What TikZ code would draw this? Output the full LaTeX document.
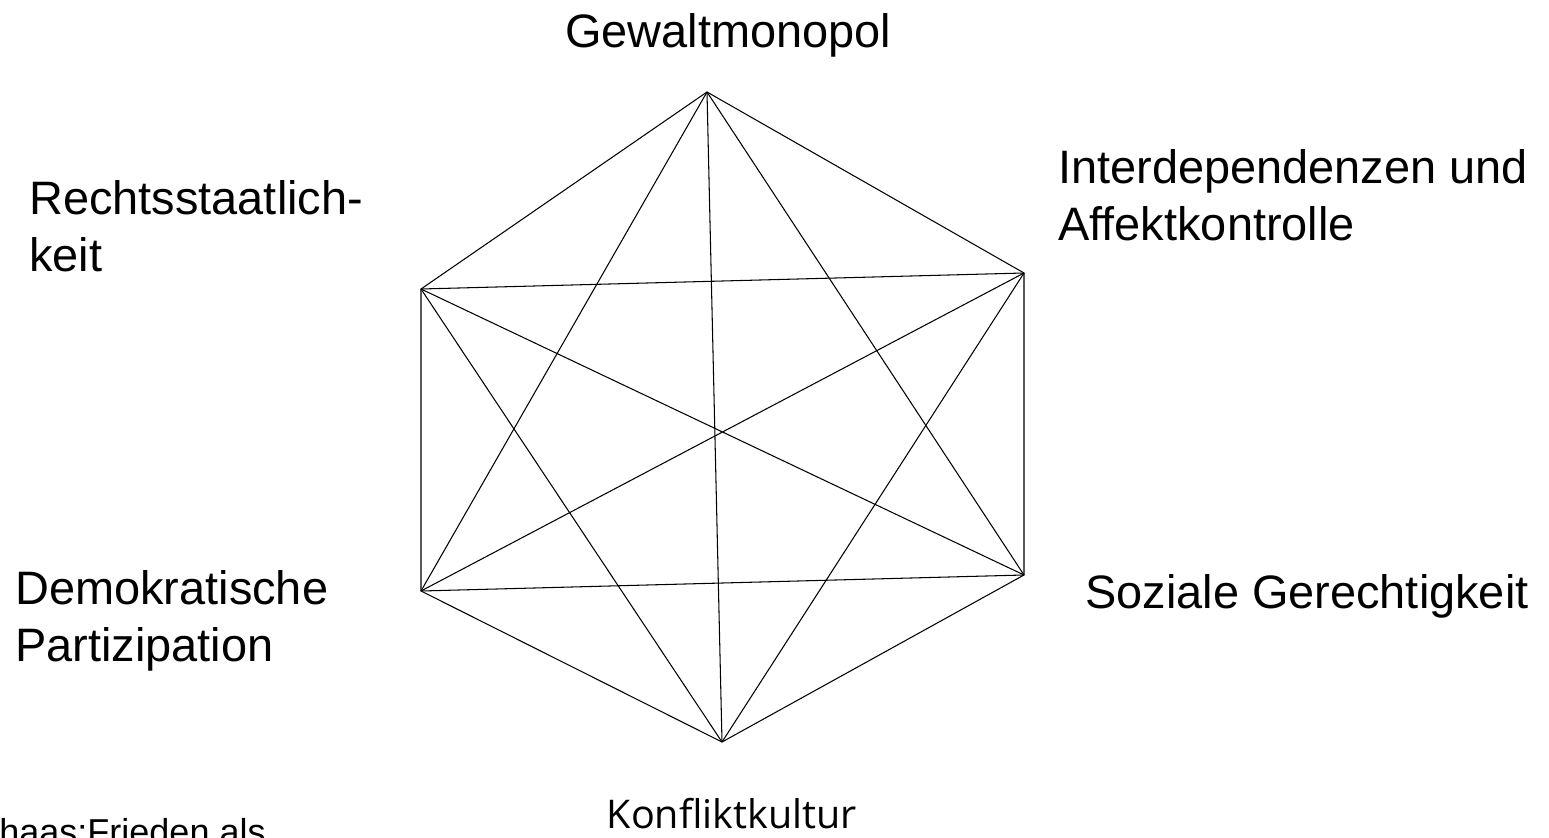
\documentclass[tikz,border=0pt]{standalone}
\usepackage{fontspec}
\setmainfont{Liberation Sans}
\newfontfamily\kulturfont{Open Sans}
\begin{document}
\begin{tikzpicture}[x=0.02cm,y=-0.02cm,
    label/.style={align=left,inner sep=0pt,anchor=base west,
      font=\fontsize{26.7}{32.4}\selectfont},
    edge/.style={line width=0.6pt}]
    \useasboundingbox (0,0) rectangle (1549,838);

    % corners of the hexagon
    \coordinate (gewalt) at (707,92);
    \coordinate (inter) at (1024,273);
    \coordinate (sozial) at (1024,575);
    \coordinate (konflikt) at (722,742);
    \coordinate (demo) at (421,591);
    \coordinate (recht) at (421,289);

    % hexagon
    \draw[edge] (gewalt) -- (inter) -- (sozial) -- (konflikt) -- (demo) -- (recht) -- cycle;

    % diagonals
    \draw[edge] (gewalt) -- (sozial);
    \draw[edge] (gewalt) -- (konflikt);
    \draw[edge] (gewalt) -- (demo);
    \draw[edge] (inter) -- (konflikt);
    \draw[edge] (inter) -- (demo);
    \draw[edge] (inter) -- (recht);
    \draw[edge] (sozial) -- (demo);
    \draw[edge] (sozial) -- (recht);
    \draw[edge] (konflikt) -- (recht);

    % labels (base = baseline of the last line)
    \node[label] (gewaltlabel) at (565,48) {Gewaltmonopol};
    \node[label] (interlabel) at (1058,240) {Interdependenzen und\\Affektkontrolle};
    \node[label] (rechtlabel) at (29,271) {Rechtsstaatlich-\\keit};
    \node[label] (demolabel) at (15,661) {Demokratische\\Partizipation};
    \node[label] (soziallabel) at (1085,608) {Soziale Gerechtigkeit};
    \node[label,anchor=base east,font=\kulturfont\fontsize{22.5}{27}\selectfont] (konfliktlabel) at (857,828) {Konfliktkultur};

    % source, cut off at the border
    \begin{scope}
      \clip (0,0) rectangle (1549,838);
      \node[label,font=\fontsize{20.5}{24}\selectfont] (quelle) at (-1,844) {haas:Frieden als};
    \end{scope}
\end{tikzpicture}
\end{document}
